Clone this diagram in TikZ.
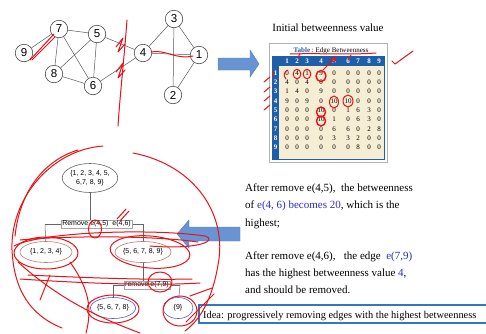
\documentclass[tikz,border=0pt]{standalone}
\usepackage{fontspec}
\setmainfont{Liberation Serif}
\newfontfamily\arialf{Liberation Sans}
\usetikzlibrary{shapes.geometric}
\definecolor{tblue}{RGB}{40,45,200}
\definecolor{tabblue}{RGB}{30,95,170}
\definecolor{beige}{RGB}{246,238,212}
\definecolor{arrblue}{RGB}{105,148,212}
\definecolor{arrblueD}{RGB}{80,120,190}
\definecolor{ink}{RGB}{232,18,24}
\definecolor{boxblue}{RGB}{50,120,190}
\definecolor{brownb}{RGB}{190,120,110}
\definecolor{ellblue}{RGB}{80,90,210}
\begin{document}
\begin{tikzpicture}[x=1pt,y=-1pt,
  gnode/.style={circle,draw=black!70,line width=0.6pt,minimum size=17.5pt,inner sep=0pt,fill=white,font=\arialf\fontsize{11.5}{11.5}\selectfont},
  gedge/.style={draw=black!65,line width=0.5pt},
  tnode/.style={ellipse,draw=black!60,line width=0.6pt,inner sep=0pt,align=center,fill=white,font=\arialf\fontsize{7}{8.5}\selectfont},
  tlabel/.style={draw=black!35,fill=white,inner sep=1pt,font=\arialf\fontsize{7}{7}\selectfont},
  tline/.style={draw=black!60,line width=0.5pt},
  tnum/.style={font=\fontsize{7}{7}\selectfont,inner sep=0pt},
  hnum/.style={font=\fontsize{7}{7}\selectfont\bfseries,text=white,inner sep=0pt},
  body/.style={anchor=base west,inner sep=0pt,font=\fontsize{11}{11}\selectfont},
  redink/.style={draw=ink,line width=1pt,line cap=round,line join=round},
  barrow/.style={fill=arrblue,draw=arrblueD,line width=0.4pt}
]
\useasboundingbox (0,0) rectangle (486,333);
\fill[white] (0,0) rectangle (486,333);

% ---------- graph ----------
\node[gnode] (n9) at (24,53) {9};
\node[gnode] (n7) at (59,29) {7};
\node[gnode] (n5) at (97,34) {5};
\node[gnode] (n8) at (54,74) {8};
\node[gnode] (n6) at (93,86) {6};
\node[gnode] (n4) at (143,53) {4};
\node[gnode] (n3) at (174,19) {3};
\node[gnode] (n1) at (199,55) {1};
\node[gnode] (n2) at (173,95) {2};
\foreach \a/\b in {n9/n7,n7/n5,n7/n8,n7/n6,n5/n8,n5/n6,n5/n4,n8/n6,n6/n4,n4/n3,n4/n1,n3/n1,n3/n2,n2/n1}
  \draw[gedge] (\a) -- (\b);

% ---------- blue arrows ----------
\path[barrow] (218,58) -- (250,58) -- (250,50) -- (259,64) -- (250,77) -- (250,70) -- (218,70) -- cycle;
\path[barrow] (240,227) -- (189,227) -- (189,220) -- (177,234) -- (189,248) -- (189,241) -- (240,241) -- cycle;

% ---------- table ----------
\node[font=\fontsize{11}{11}\selectfont,inner sep=0pt] (title) at (328,28) {Initial betweenness value};
\draw[black!30,fill=white] (269,43) rectangle (387,162);
\node[font=\fontsize{7}{7}\selectfont,inner sep=0pt] (tcap) at (331,51) {\textcolor{tabblue}{\bfseries Table}\,: Edge Betweenness};
\fill[tabblue] (272,56) rectangle (385,160);
\fill[beige] (279,66) rectangle (384,159);
\foreach \xx [count=\j] in {287,297,307,321,334,348,358,369,379} {
  \node[hnum] at (\xx,61) {\j};
}
\foreach \r [count=\i] in {{0,4,1,9,0,0,0,0,0},{4,0,4,0,0,0,0,0,0},{1,4,0,9,0,0,0,0,0},{9,0,9,0,10,10,0,0,0},{0,0,0,10,0,1,6,3,0},{0,0,0,10,1,0,6,3,0},{0,0,0,0,6,6,0,2,8},{0,0,0,0,3,3,2,0,0},{0,0,0,0,0,0,8,0,0}} {
  \node[hnum] at (275.5,{73+(\i-1)*9.3}) {\i};
  \foreach \v [count=\j] in \r {
    \pgfmathsetmacro\xx{{287,297,307,321,334,348,358,369,379}[\j-1]}
    \node[tnum] at (\xx,{73+(\i-1)*9.3}) {\v};
  }
}

% ---------- tree ----------
\node[tnode,minimum width=52pt,minimum height=29pt] (root) at (90,178) {\{1, 2, 3, 4, 5,\\6,7, 8, 9\}};
\coordinate (hl) at (45,224);
\coordinate (hr) at (143,224);
\draw[tline] (hl) -- (hr);
\node[tnode,draw=brownb,minimum width=52pt,minimum height=21pt] (c1) at (46,252) {\{1, 2, 3, 4\}};
\node[tnode,draw=brownb,minimum width=53pt,minimum height=21pt] (c2) at (143,252) {\{5, 6, 7, 8, 9\}};
\draw[tline] (root) -- (90,224);
\draw[tline] (hl) -- (c1);
\draw[tline] (hr) -- (c2);
\node[tlabel] (rm1) at (96.5,224) {Remove e(4,5)\ \ e(4,6)};
\coordinate (gl) at (113,285);
\coordinate (gr) at (180,285);
\draw[tline] (gl) -- (gr);
\node[tnode,draw=ellblue,minimum width=40pt,minimum height=21pt] (c3) at (113,308) {\{5, 6, 7, 8\}};
\node[tnode,draw=ellblue,minimum width=30pt,minimum height=21pt] (c4) at (178,308) {\{9\}};
\draw[tline] (c2) -- (143,285);
\draw[tline] (gl) -- (c3);
\draw[tline] (gr) -- (c4);
\node[tlabel] (rm2) at (147,285) {remove e(7,9)};

% ---------- explanation text ----------
\node[body] (l1) at (245,191) {After remove e(4,5),\ \ the betweenness};
\node[body] (l2) at (245,208) {of \textcolor{tblue}{e(4, 6) becomes 20}, which is the};
\node[body] (l3) at (245,226) {highest;};
\node[body] (l4) at (245,259) {After remove e(4,6),\ \ \ the edge\ \ \textcolor{tblue}{e(7,9)}};
\node[body] (l5) at (245,276) {has the highest betweenness value \textcolor{tblue}{4},};
\node[body] (l6) at (245,293) {and should be removed.};
\draw[boxblue,line width=1.3pt,fill=white] (199,305) rectangle (492,323);
\node[body,font=\fontsize{10.4}{10.4}\selectfont] (idea) at (203,318) {Idea: progressively removing edges with the highest betweenness};

% ---------- red hand annotations ----------
% graph
\draw[redink] (30,60) -- (54,34);
\draw[redink] (32,60) -- (55,37);
\draw[redink] (127,20) .. controls (124,60) and (120,95) .. (118,126);
\draw[redink] (116,47) -- (123,38) -- (118,52) -- (125,44);
\draw[redink] (116,72) -- (123,63) -- (118,78) -- (125,70);
\draw[redink] (151,52) .. controls (165,49) and (176,60) .. (193,56);
% table
\draw[redink] (290,54) .. controls (320,53) and (350,55) .. (376,53);
\draw[redink] (286,79) .. controls (283,76) and (284,71) .. (288,70);
\draw[redink] (297,74) ellipse (3.8 and 4.8);
\draw[redink] (307,74) ellipse (3.8 and 4.8);
\draw[redink,line width=1.4pt] (321,76) ellipse (5 and 5.5);
\draw[redink] (323,70) -- (335,58);
\draw[redink] (330,60) -- (336,57) -- (334,63);
\draw[redink] (298,58) -- (300,53);
\draw[redink] (348,60) -- (351,55);
\draw[redink] (334,102) ellipse (4.5 and 6);
\draw[redink] (348,101) ellipse (5 and 6);
\draw[redink,line width=1.4pt] (321,112) ellipse (4.5 and 5);
\draw[redink,line width=1.4pt] (321,121) ellipse (4.5 and 5);
\draw[redink] (392,61) -- (395,64) -- (413,51);
\draw[redink] (264,82) -- (270,77);
\draw[redink] (264,92) -- (270,87);
\draw[redink] (264,101) -- (270,96);
\draw[redink] (264,110) -- (270,105);
\draw[redink] (273,71) -- (273,77);
% tree
\draw[redink] (103,146) .. controls (50,150) and (10,200) .. (12,250) .. controls (14,290) and (30,315) .. (62,328);
\draw[redink] (15,236) .. controls (20,190) and (45,160) .. (78,150);
\draw[redink] (133,153) .. controls (195,165) and (228,215) .. (218,265) .. controls (212,300) and (200,320) .. (185,331);
\draw[redink] (95,229) ellipse (6.5 and 9);
\draw[redink] (117,219) -- (126,209);
\draw[redink] (120,221) -- (129,211);
\draw[redink] (14,246) .. controls (40,232) and (150,228) .. (205,236) .. controls (218,240) and (200,250) .. (150,246);
\draw[redink] (20,240) .. controls (60,236) and (150,235) .. (198,242);
\draw[redink] (46,253) ellipse (32 and 16);
\draw[redink,rotate around={-5:(150,252)}] (150,252) ellipse (40 and 16);
\draw[redink] (20,279) .. controls (80,283) and (150,286) .. (200,283);
\draw[redink] (28,275) .. controls (90,278) and (150,280) .. (192,279);
\draw[redink] (160,282) ellipse (12 and 10);
\draw[redink] (113,309) ellipse (26 and 14);
\draw[redink] (180,311) ellipse (17 and 15);
\draw[redink] (50,275) -- (40,300);
\draw[redink] (18,262) .. controls (60,300) and (100,318) .. (140,333);
\draw[redink] (70,262) .. controls (90,290) and (92,310) .. (86,333);
\draw[redink] (190,296) -- (212,288);
\draw[redink] (186,322) -- (214,294);
\end{tikzpicture}
\end{document}
